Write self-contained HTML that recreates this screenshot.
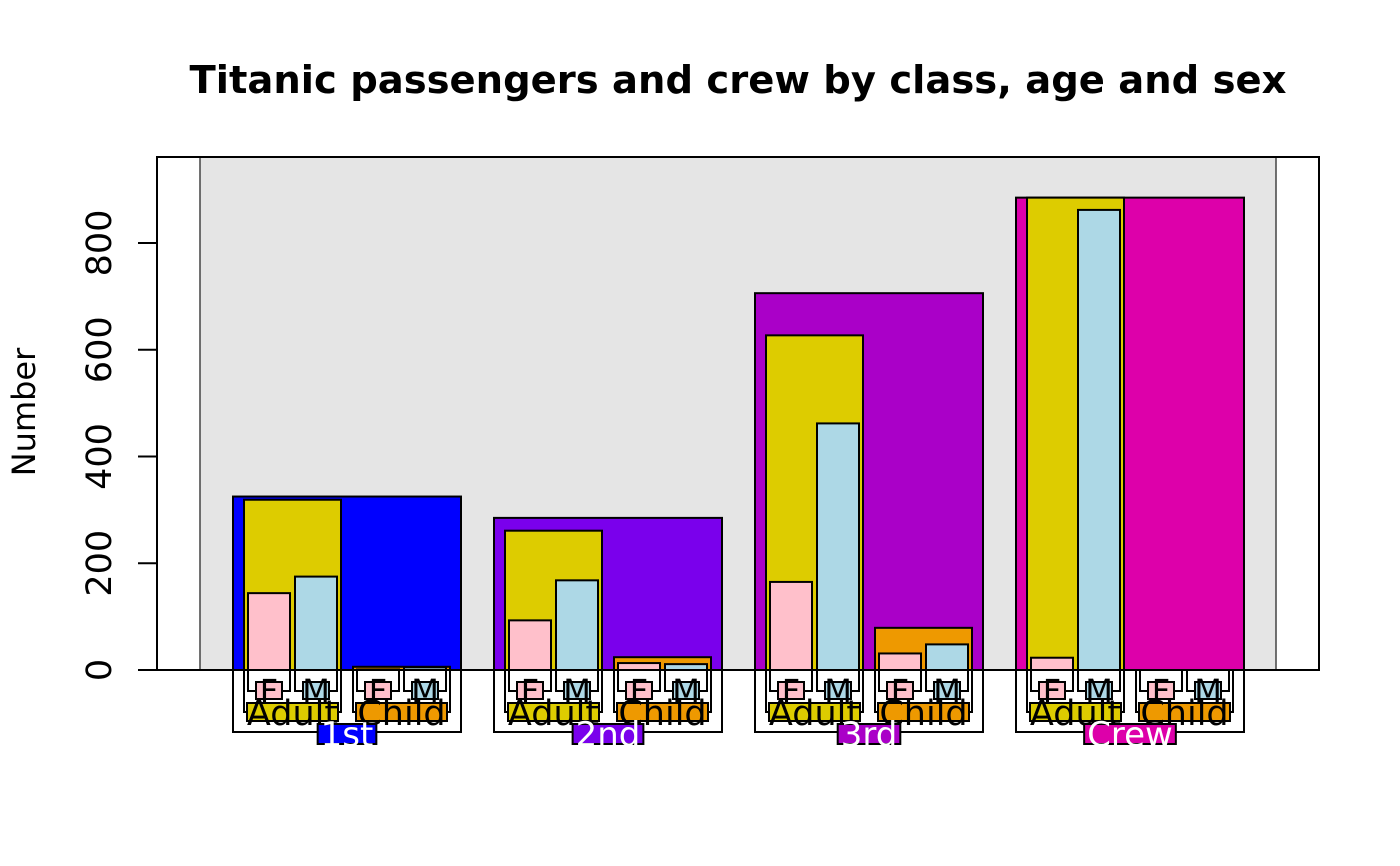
<!DOCTYPE html>
<html><head><meta charset="utf-8"><style>
html,body{margin:0;padding:0;background:#fff;}
svg{display:block;font-family:"DejaVu Sans","Liberation Sans",sans-serif;}
</style></head><body>
<svg id="chart" width="1400" height="866" viewBox="0 0 1400 866" xmlns="http://www.w3.org/2000/svg">
<rect x="157" y="157" width="1162" height="513" fill="#fff" stroke="none"/>
<rect x="200" y="157" width="1076" height="513" fill="#e5e5e5" stroke="#444" stroke-width="1.5"/>
<g id="marks"></g>
<rect x="157" y="157" width="1162" height="513" fill="none" stroke="#000" stroke-width="2"/>
<g id="yaxis"></g>
<text x="738" y="93" font-size="38.5" font-weight="bold" text-anchor="middle">Titanic passengers and crew by class, age and sex</text>
<text x="0" y="0" font-size="32" text-anchor="middle" transform="translate(35,412) rotate(-90)">Number</text>
</svg>
<script>
const classes = ["1st","2nd","3rd","Crew"];
const ages = ["Adult","Child"];
const sexes = ["F","M"];
// counts [class][age][sex]
const adultF = [144, 93, 165, 23];
const adultM = [175, 168, 462, 862];
const childF = [1, 13, 31, 0];
const childM = [5, 11, 48, 0];
const yTicks = [0, 200, 400, 600, 800];

const classColors = ["#0000ff","#7a00ec","#aa00c8","#dd00aa"];
const ageColors = ["#ddcc00","#ee9900"];
const sexColors = ["#ffc0cb","#add8e6"];

const NS = "http://www.w3.org/2000/svg";
const y0 = 670, pxPerUnit = 427/800;
function yScale(v){ return y0 - v*pxPerUnit; }
function classX(i){ return 233 + i*261; }
const marks = document.getElementById('marks');
const yaxis = document.getElementById('yaxis');
function mk(tag, attrs, parent){ const e=document.createElementNS(NS,tag); for(const k in attrs) e.setAttribute(k,attrs[k]); parent.appendChild(e); return e; }

const data = classes.map((c,i)=>[[adultF[i],adultM[i]],[childF[i],childM[i]]]);

classes.forEach((c,i)=>{
  const cx = classX(i);
  const tot = data[i][0][0]+data[i][0][1]+data[i][1][0]+data[i][1][1];
  const r = mk('rect',{x:cx,y:yScale(tot),width:228,height:tot*pxPerUnit,fill:classColors[i],stroke:'#000','stroke-width':2},marks);
  
  
  ages.forEach((a,j)=>{
    const ax = cx + 11 + j*109;
    const at = data[i][j][0]+data[i][j][1];
    const ar = mk('rect',{x:ax,y:yScale(at),width:97,height:at*pxPerUnit,fill:ageColors[j],stroke:'#000','stroke-width':2},marks);
    
    
    sexes.forEach((s,k)=>{
      const sx = ax + 4 + k*47;
      const v = data[i][j][k];
      const sr = mk('rect',{x:sx,y:yScale(v),width:42,height:v*pxPerUnit,fill:sexColors[k],stroke:'#000','stroke-width':2},marks);
      
      
    });
  });
});

classes.forEach((c,i)=>{
  const cx = classX(i);
  const cb = mk('rect',{x:cx,y:y0,width:228,height:62,fill:'none',stroke:'#000','stroke-width':2},marks);
  
  
  ages.forEach((a,j)=>{
    const ax = cx + 11 + j*109;
    const ab = mk('rect',{x:ax,y:y0,width:97,height:42,fill:'none',stroke:'#000','stroke-width':2},marks);
    
    
    sexes.forEach((s,k)=>{
      const sx = ax + 4 + k*47;
      const sb = mk('rect',{x:sx,y:y0,width:42,height:21,fill:'none',stroke:'#000','stroke-width':2},marks);
      
      
      const sl = mk('rect',{x:sx+8,y:682,width:26,height:17,fill:sexColors[k],stroke:'#000','stroke-width':2},marks);
      
      
      const st = mk('text',{x:sx+21,y:702,'font-size':32,'text-anchor':'middle',fill:'#000'},marks);
      st.textContent = s;
      
      
    });
    const al = mk('rect',{x:ax+3,y:703,width:91,height:18,fill:ageColors[j],stroke:'#000','stroke-width':2},marks);
    
    
    const at = mk('text',{x:ax+48.5,y:725,'font-size':35,'text-anchor':'middle',fill:'#000'},marks);
    at.textContent = a;
    
    
  });
  const ct = mk('text',{x:cx+114,y:746,'font-size':34,'text-anchor':'middle',fill:'#fff'},marks);
  ct.textContent = c;
  
  
  const w = ct.getComputedTextLength()+6;
  const cl = document.createElementNS(NS,'rect');
  cl.setAttribute('x',cx+114-w/2); cl.setAttribute('y',724); cl.setAttribute('width',w); cl.setAttribute('height',20);
  cl.setAttribute('fill',classColors[i]); cl.setAttribute('stroke','#000'); cl.setAttribute('stroke-width',2);
  
  
  marks.insertBefore(cl, ct);
});

yTicks.forEach(t=>{
  const y = yScale(t);
  const l = mk('line',{x1:138,x2:157,y1:y,y2:y,stroke:'#000','stroke-width':2},yaxis);
  
  
  const tx = mk('text',{x:0,y:0,'font-size':35,'text-anchor':'middle',transform:'translate(111,'+y+') rotate(-90)'},yaxis);
  tx.textContent = t;
  
  
});
</script>
</body></html>
